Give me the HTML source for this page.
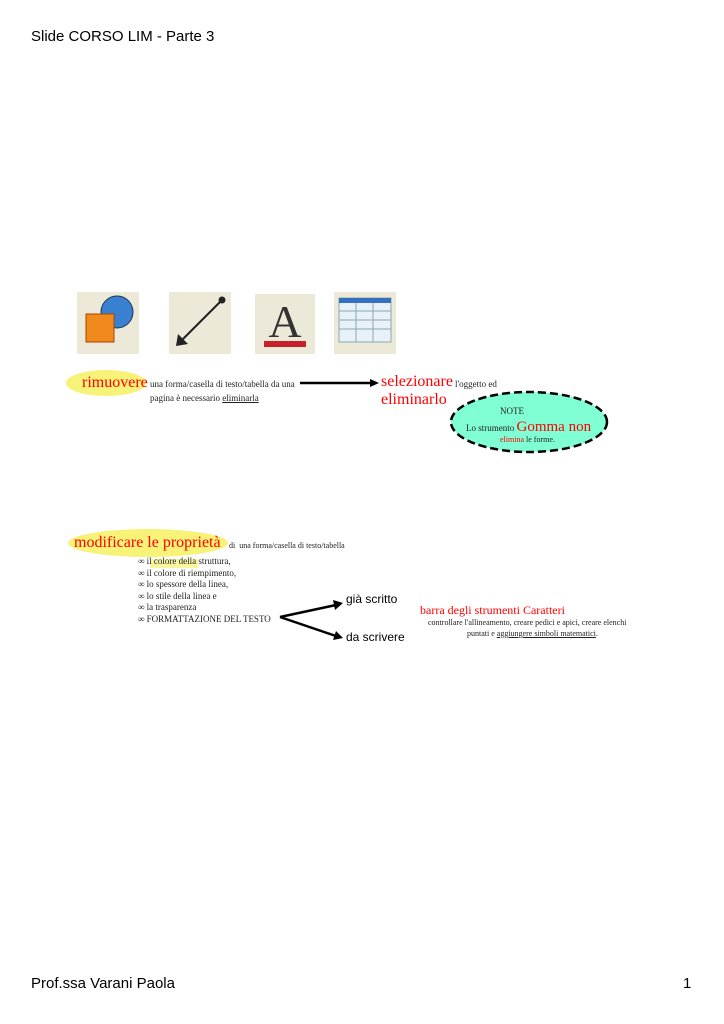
<!DOCTYPE html>
<html><head><meta charset="utf-8"><style>
body{margin:0;width:724px;height:1024px;position:relative;background:#fff;font-family:"Liberation Serif",serif;overflow:hidden}
.a{position:absolute;white-space:nowrap}
.s{font-family:"Liberation Sans",sans-serif}
.t{font-size:9px;color:#222}
.r{color:#f00}
</style></head><body>
<div class="a s" style="left:31px;top:28px;font-size:15px">Slide CORSO LIM - Parte 3</div>
<div class="a s" style="left:31px;top:975px;font-size:15px">Prof.ssa Varani Paola</div>
<div class="a s" style="left:683px;top:975px;font-size:15px">1</div>

<svg class="a" style="left:0;top:0" width="724" height="1024">
<rect x="77" y="292" width="62" height="62" fill="#ece9d8"/>
<circle cx="117" cy="312" r="16" fill="#3a80d0" stroke="#235" stroke-width="1"/>
<rect x="86" y="314" width="28" height="28" fill="#f08a1c" stroke="#a40" stroke-width="1"/>
<rect x="169" y="292" width="62" height="62" fill="#ece9d8"/>
<line x1="222" y1="300" x2="180" y2="342" stroke="#222" stroke-width="2"/>
<circle cx="222" cy="300" r="3.5" fill="#222"/>
<polygon points="176,346 178,334 188,344" fill="#222"/>
<rect x="255" y="294" width="60" height="60" fill="#ece9d8"/>
<text x="285" y="337" font-family="Liberation Serif" font-size="46" text-anchor="middle" fill="#333">A</text>
<rect x="264" y="341" width="42" height="6" fill="#c8202a"/>
<rect x="334" y="292" width="62" height="62" fill="#ece9d8"/>
<rect x="339" y="298" width="52" height="44" fill="#e8f0fa" stroke="#8aa" stroke-width="1"/>
<rect x="339" y="298" width="52" height="5" fill="#3570c0"/>
<path d="M339 311H391M339 320H391M339 329H391M356 303V342M373 303V342" stroke="#8aa" stroke-width="1"/>
<ellipse cx="106" cy="383" rx="40" ry="13" fill="#f6f060" opacity=".85"/>
<ellipse cx="148" cy="543" rx="80" ry="14" fill="#f6f060" opacity=".85"/>
<rect x="150" y="559" width="48" height="9" fill="#f6f060" opacity=".6"/>
<line x1="300" y1="383" x2="372" y2="383" stroke="#000" stroke-width="2.5"/>
<polygon points="379,383 370,379 370,387" fill="#000"/>
<ellipse cx="529" cy="422" rx="78" ry="30" fill="#80ffd4" stroke="#000" stroke-width="2.5" stroke-dasharray="8,4"/>
<line x1="280" y1="617" x2="336" y2="605" stroke="#000" stroke-width="2.5"/>
<polygon points="343,603 333,600 335,610" fill="#000"/>
<line x1="280" y1="617" x2="336" y2="636" stroke="#000" stroke-width="2.5"/>
<polygon points="343,638 336,631 333,640" fill="#000"/>
</svg>

<div class="a r" style="left:82px;top:374px;font-size:16px">rimuovere</div>
<div class="a t" style="left:150px;top:379px">una forma/casella di testo/tabella da una</div>
<div class="a t" style="left:150px;top:393px">pagina è necessario <u>eliminarla</u></div>
<div class="a r" style="left:381px;top:373px;font-size:16px;line-height:18px">selezionare<br>eliminarlo</div>
<div class="a t" style="left:455px;top:379px">l'oggetto ed</div>
<div class="a t" style="left:500px;top:406px">NOTE</div>
<div class="a t" style="left:466px;top:419px">Lo strumento <span class="r" style="font-size:15px">Gomma non</span></div>
<div class="a t" style="left:500px;top:435px;font-size:8px"><span class="r">elimina</span> le forme.</div>

<div class="a r" style="left:74px;top:534px;font-size:16px">modificare le proprietà</div>
<div class="a t" style="left:229px;top:541px;font-size:8px">di &nbsp;una forma/casella di testo/tabella</div>
<div class="a t" style="left:138px;top:556px;line-height:11.5px">∞ il colore della struttura,<br>∞ il colore di riempimento,<br>∞ lo spessore della linea,<br>∞ lo stile della linea e<br>∞ la trasparenza<br>∞ FORMATTAZIONE DEL TESTO</div>
<div class="a s" style="left:346px;top:592px;font-size:12px">già scritto</div>
<div class="a s" style="left:346px;top:630px;font-size:12px">da scrivere</div>
<div class="a r" style="left:420px;top:603px;font-size:12px">barra degli strumenti Caratteri</div>
<div class="a t" style="left:428px;top:618px;font-size:8px">controllare l'allineamento, creare pedici e apici, creare elenchi</div>
<div class="a t" style="left:467px;top:629px;font-size:8px">puntati e <u>aggiungere simboli matematici</u>.</div>
</body></html>
